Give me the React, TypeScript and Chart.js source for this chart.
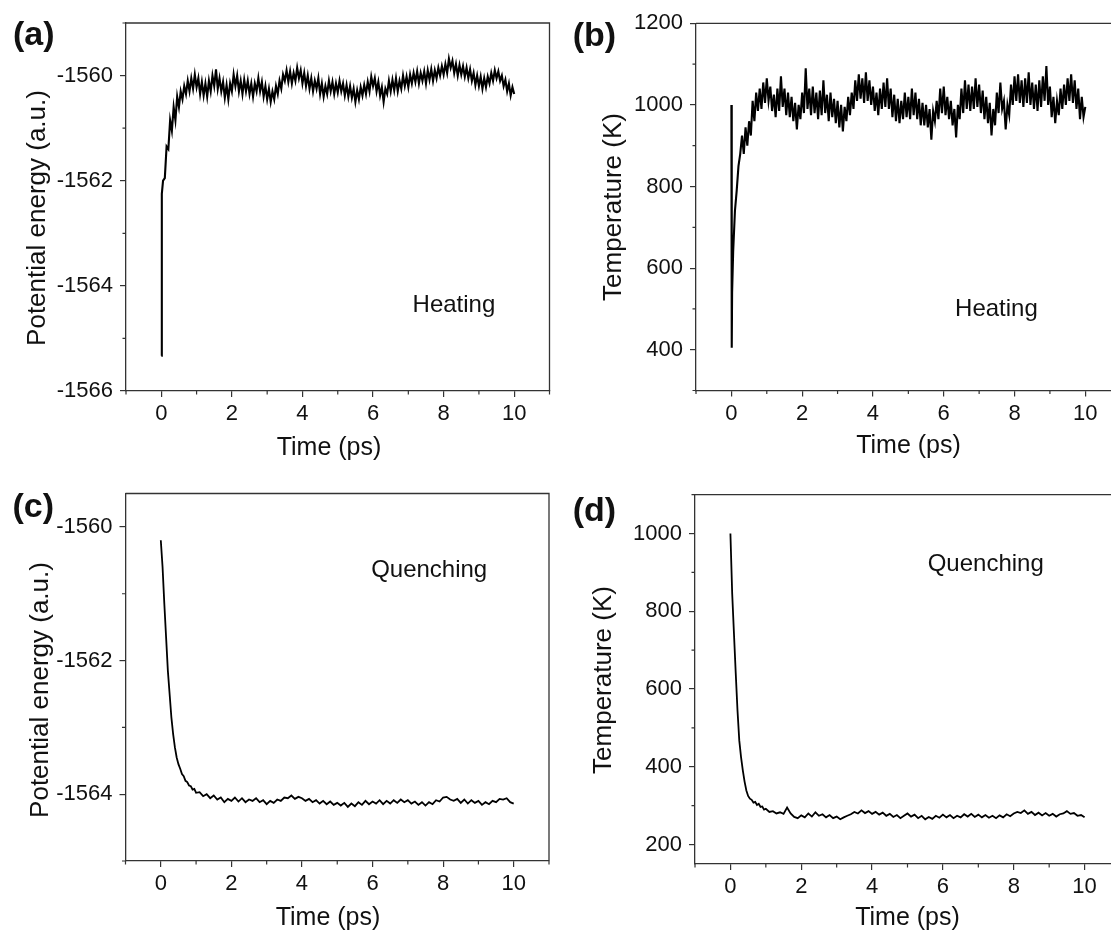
import React, { useEffect, useRef } from "react";
import { Chart, registerables } from "chart.js";

Chart.register(...registerables);

// ---------------- DATA ----------------
const TIME_HEAT = [
  0, 0.01, 0.02,
  0.05, 0.1, 0.15, 0.2, 0.25, 0.3, 0.35, 0.4, 0.45, 0.5,
  0.55, 0.6, 0.65, 0.7, 0.75, 0.8, 0.85, 0.9, 0.95, 1.0,
  1.05, 1.1, 1.15, 1.2, 1.25, 1.3, 1.35, 1.4, 1.45, 1.5,
  1.55, 1.6, 1.65, 1.7, 1.75, 1.8, 1.85, 1.9, 1.95, 2.0,
  2.05, 2.1, 2.15, 2.2, 2.25, 2.3, 2.35, 2.4, 2.45, 2.5,
  2.55, 2.6, 2.65, 2.7, 2.75, 2.8, 2.85, 2.9, 2.95, 3.0,
  3.05, 3.1, 3.15, 3.2, 3.25, 3.3, 3.35, 3.4, 3.45, 3.5,
  3.55, 3.6, 3.65, 3.7, 3.75, 3.8, 3.85, 3.9, 3.95, 4.0,
  4.05, 4.1, 4.15, 4.2, 4.25, 4.3, 4.35, 4.4, 4.45, 4.5,
  4.55, 4.6, 4.65, 4.7, 4.75, 4.8, 4.85, 4.9, 4.95, 5.0,
  5.05, 5.1, 5.15, 5.2, 5.25, 5.3, 5.35, 5.4, 5.45, 5.5,
  5.55, 5.6, 5.65, 5.7, 5.75, 5.8, 5.85, 5.9, 5.95, 6.0,
  6.05, 6.1, 6.15, 6.2, 6.25, 6.3, 6.35, 6.4, 6.45, 6.5,
  6.55, 6.6, 6.65, 6.7, 6.75, 6.8, 6.85, 6.9, 6.95, 7.0,
  7.05, 7.1, 7.15, 7.2, 7.25, 7.3, 7.35, 7.4, 7.45, 7.5,
  7.55, 7.6, 7.65, 7.7, 7.75, 7.8, 7.85, 7.9, 7.95, 8.0,
  8.05, 8.1, 8.15, 8.2, 8.25, 8.3, 8.35, 8.4, 8.45, 8.5,
  8.55, 8.6, 8.65, 8.7, 8.75, 8.8, 8.85, 8.9, 8.95, 9.0,
  9.05, 9.1, 9.15, 9.2, 9.25, 9.3, 9.35, 9.4, 9.45, 9.5,
  9.55, 9.6, 9.65, 9.7, 9.75, 9.8, 9.85, 9.9, 9.95, 10.0,
];

// (a) potential energy during heating (a.u.)
const ENERGY_HEAT = [
  -1565.33, -1563.6, -1562.25,
  -1562.0, -1561.95, -1561.35, -1561.4, -1560.85, -1561.05, -1560.6, -1560.85, -1560.4, -1560.6,
  -1560.3, -1560.45, -1560.2, -1560.35, -1560.1, -1560.3, -1560.05, -1560.25, -1559.98, -1560.22,
  -1560.05, -1560.35, -1560.12, -1560.38, -1560.15, -1560.4, -1560.1, -1560.3, -1560.0, -1560.2,
  -1559.88, -1560.25, -1560.05, -1560.3, -1560.12, -1560.42, -1560.18, -1560.45, -1560.15, -1560.3,
  -1559.98, -1560.2, -1560.0, -1560.3, -1560.1, -1560.35, -1560.08, -1560.3, -1560.1, -1560.35,
  -1560.15, -1560.4, -1560.15, -1560.3, -1560.05, -1560.3, -1560.12, -1560.4, -1560.2, -1560.45,
  -1560.25, -1560.5, -1560.3, -1560.45, -1560.2, -1560.35, -1560.1, -1560.25, -1559.98, -1560.1,
  -1559.9, -1560.12, -1559.92, -1560.15, -1559.95, -1560.1, -1559.85, -1560.05, -1559.9, -1560.15,
  -1559.95, -1560.2, -1560.0, -1560.25, -1560.05, -1560.3, -1560.1, -1560.25, -1560.05, -1560.35,
  -1560.15, -1560.4, -1560.2, -1560.35, -1560.1, -1560.3, -1560.12, -1560.35, -1560.15, -1560.32,
  -1560.1, -1560.3, -1560.15, -1560.38, -1560.18, -1560.4, -1560.2, -1560.42, -1560.25, -1560.5,
  -1560.28, -1560.45, -1560.22, -1560.38, -1560.18, -1560.35, -1560.12, -1560.3, -1560.02, -1560.2,
  -1560.05, -1560.3, -1560.12, -1560.38, -1560.22, -1560.5, -1560.25, -1560.35, -1560.1, -1560.3,
  -1560.08, -1560.28, -1560.05, -1560.3, -1560.1, -1560.25, -1560.0, -1560.2, -1560.02, -1560.22,
  -1559.98, -1560.15, -1559.95, -1560.12, -1559.92, -1560.15, -1559.95, -1560.1, -1559.92, -1560.15,
  -1559.9, -1560.08, -1559.88, -1560.1, -1559.9, -1560.05, -1559.85, -1560.0, -1559.82, -1559.98,
  -1559.78, -1559.95, -1559.68, -1559.85, -1559.72, -1559.95, -1559.78, -1560.0, -1559.8, -1559.98,
  -1559.82, -1560.02, -1559.85, -1560.05, -1559.88, -1560.1, -1559.95, -1560.18, -1560.0, -1560.2,
  -1560.02, -1560.25, -1560.05, -1560.22, -1560.02, -1560.15, -1559.95, -1560.1, -1559.9, -1560.05,
  -1559.92, -1560.1, -1560.0, -1560.2, -1560.08, -1560.3, -1560.15, -1560.38, -1560.22, -1560.35,
];

// (b) temperature during heating (K)
const TEMP_HEAT = [
  1000, 405, 540,
  640, 740, 790, 850, 880, 925, 880, 945, 900, 960,
  925, 1010, 960, 1030, 985, 1040, 990, 1055, 1005, 1065,
  1010, 1045, 985, 1025, 970, 1040, 985, 1070, 995, 1040,
  975, 1030, 970, 1020, 960, 1005, 940, 1000, 965, 1030,
  980, 1090, 990, 1040, 975, 1045, 980, 1030, 965, 1035,
  975, 1060, 980, 1025, 960, 1030, 970, 1015, 955, 1010,
  945, 1000, 935, 995, 960, 1020, 975, 1030, 990, 1060,
  1010, 1075, 1015, 1065, 1005, 1080, 1010, 1060, 1000, 1045,
  985, 1030, 975, 1040, 990, 1055, 995, 1065, 990, 1040,
  970, 1025, 960, 1015, 955, 1010, 965, 1030, 970, 1020,
  965, 1040, 975, 1030, 965, 1015, 950, 1005, 950, 1000,
  945, 990, 915, 985, 960, 1010, 965, 1040, 980, 1045,
  975, 1020, 965, 1010, 950, 990, 920, 1000, 965, 1040,
  980, 1060, 990, 1050, 985, 1045, 990, 1065, 995, 1050,
  980, 1035, 965, 1020, 955, 1005, 925, 990, 950, 1030,
  980, 1055, 990, 1010, 940, 1000, 975, 1050, 1000, 1070,
  1010, 1075, 1005, 1060, 995, 1065, 1005, 1080, 1000, 1055,
  990, 1050, 985, 1060, 995, 1070, 1010, 1095, 1000, 1045,
  970, 1020, 955, 1010, 975, 1040, 990, 1050, 1000, 1065,
  1010, 1075, 1005, 1060, 990, 1040, 965, 1020, 970, 995,
];

const TIME_QUENCH = [
  0, 0.05, 0.1, 0.15, 0.2, 0.25, 0.3, 0.35, 0.4, 0.45,
  0.5, 0.55, 0.6, 0.65, 0.7, 0.75, 0.8, 0.85, 0.9, 0.95,
  1.0,
  1.1, 1.2, 1.3, 1.4, 1.5, 1.6, 1.7, 1.8, 1.9, 2.0,
  2.1, 2.2, 2.3, 2.4, 2.5, 2.6, 2.7, 2.8, 2.9, 3.0,
  3.1, 3.2, 3.3, 3.4, 3.5, 3.6, 3.7, 3.8, 3.9, 4.0,
  4.1, 4.2, 4.3, 4.4, 4.5, 4.6, 4.7, 4.8, 4.9, 5.0,
  5.1, 5.2, 5.3, 5.4, 5.5, 5.6, 5.7, 5.8, 5.9, 6.0,
  6.1, 6.2, 6.3, 6.4, 6.5, 6.6, 6.7, 6.8, 6.9, 7.0,
  7.1, 7.2, 7.3, 7.4, 7.5, 7.6, 7.7, 7.8, 7.9, 8.0,
  8.1, 8.2, 8.3, 8.4, 8.5, 8.6, 8.7, 8.8, 8.9, 9.0,
  9.1, 9.2, 9.3, 9.4, 9.5, 9.6, 9.7, 9.8, 9.9, 10.0,
];

// (c) potential energy during quenching (a.u.)
const ENERGY_QUENCH = [
  -1560.2, -1560.6, -1561.15, -1561.65, -1562.15, -1562.5, -1562.85, -1563.1, -1563.3, -1563.45,
  -1563.55, -1563.62, -1563.7, -1563.73, -1563.8, -1563.82, -1563.87, -1563.88, -1563.93, -1563.92,
  -1563.98,
  -1563.97, -1564.03, -1564.0, -1564.06, -1564.02, -1564.08, -1564.05, -1564.12, -1564.07, -1564.1,
  -1564.05, -1564.11, -1564.06, -1564.12, -1564.08, -1564.1, -1564.06, -1564.12, -1564.09, -1564.15,
  -1564.1, -1564.13, -1564.08, -1564.1, -1564.05, -1564.06, -1564.02, -1564.07, -1564.04, -1564.06,
  -1564.1, -1564.07, -1564.12, -1564.09, -1564.14, -1564.1, -1564.15, -1564.11, -1564.16, -1564.13,
  -1564.17, -1564.13, -1564.19, -1564.14, -1564.18, -1564.12, -1564.16, -1564.1, -1564.15, -1564.11,
  -1564.14, -1564.09, -1564.15, -1564.1, -1564.14, -1564.09, -1564.13, -1564.08, -1564.12, -1564.09,
  -1564.14, -1564.11, -1564.16, -1564.12, -1564.17, -1564.12, -1564.15, -1564.09, -1564.11, -1564.05,
  -1564.04, -1564.08, -1564.1, -1564.07, -1564.13, -1564.08, -1564.14, -1564.09, -1564.13, -1564.1,
  -1564.16, -1564.12, -1564.15, -1564.1, -1564.12, -1564.07, -1564.08, -1564.06, -1564.12, -1564.14,
];

// (d) temperature during quenching (K)
const TEMP_QUENCH = [
  1000, 846, 743, 641, 545, 468, 425, 391, 362, 339,
  325, 318, 315, 308, 310, 302, 305, 297, 298, 290,
  292,
  284, 286, 280, 283, 279, 295, 280, 271, 268, 275,
  270, 280, 272, 283, 274, 278, 270, 276, 268, 272,
  265, 270, 274, 278, 284, 280, 288, 281, 286, 279,
  284, 277, 282, 274, 279, 271, 276, 268, 274, 280,
  272, 277, 268, 274, 265, 271, 266, 274, 269, 277,
  270, 276, 268, 274, 270, 278, 272, 279, 271, 277,
  270, 276, 269, 274, 268, 275, 270, 278, 273, 280,
  284, 281, 288, 279, 284, 276, 282, 275, 281, 274,
  279, 272, 278, 280, 286, 279, 281, 274, 276, 270,
];

// tick values
const X_MAJOR = [0, 2, 4, 6, 8, 10];
const X_MINOR = [-1, 1, 3, 5, 7, 9, 11];
const A_Y_MAJOR = [-1566, -1564, -1562, -1560];
const A_Y_MINOR = [-1565, -1563, -1561, -1559];
const B_Y_MAJOR = [400, 600, 800, 1000, 1200];
const B_Y_MINOR = [300, 500, 700, 900, 1100];
const C_Y_MAJOR = [-1564, -1562, -1560];
const C_Y_MINOR = [-1565, -1563, -1561];
const D_Y_MAJOR = [200, 400, 600, 800, 1000];
const D_Y_MINOR = [300, 500, 700, 900, 1100];

// ---------------- LAYOUT / STYLE ----------------
const FONT = "'Liberation Sans', Arial, Helvetica, sans-serif";
const AXIS_COLOR = "#333333";
const TEXT_COLOR = "#111111";
const CANVAS_W = 1140;
const CANVAS_H = 931;
const Y_AXIS_W = 100;
const X_AXIS_H = 60;

type Panel = {
  key: string;
  letter: string;
  letterX: number;
  letterY: number;
  time: number[];
  values: number[];
  lineWidth: number;
  yMin: number;
  yMax: number;
  yMajor: number[];
  yMinor: number[];
  area: { L: number; R: number; T: number; B: number };
  xTitle: string;
  xTitleX: number;
  xTitleY: number;
  yTitle: string;
  yTitleX: number;
  yTitleY: number;
  note: string;
  noteX: number;
  noteY: number;
};

const PANELS: Panel[] = [
  {
    key: "a", letter: "(a)", letterX: 13, letterY: 45,
    time: TIME_HEAT, values: ENERGY_HEAT, lineWidth: 2.1,
    yMin: -1566, yMax: -1559, yMajor: A_Y_MAJOR, yMinor: A_Y_MINOR,
    area: { L: 126, R: 549.5, T: 23, B: 391 },
    xTitle: "Time (ps)", xTitleX: 329, xTitleY: 454.5,
    yTitle: "Potential energy (a.u.)", yTitleX: 45, yTitleY: 218,
    note: "Heating", noteX: 7.12, noteY: -1564.5,
  },
  {
    key: "b", letter: "(b)", letterX: 572.7, letterY: 46,
    time: TIME_HEAT, values: TEMP_HEAT, lineWidth: 2.1,
    yMin: 300, yMax: 1200, yMajor: B_Y_MAJOR, yMinor: B_Y_MINOR,
    area: { L: 696, R: 1120.7, T: 23.3, B: 390.5 },
    xTitle: "Time (ps)", xTitleX: 908.5, xTitleY: 453,
    yTitle: "Temperature (K)", yTitleX: 621, yTitleY: 207,
    note: "Heating", noteX: 6.32, noteY: 481.7,
  },
  {
    key: "c", letter: "(c)", letterX: 12.5, letterY: 517,
    time: TIME_QUENCH, values: ENERGY_QUENCH, lineWidth: 1.8,
    yMin: -1565, yMax: -1559.5, yMajor: C_Y_MAJOR, yMinor: C_Y_MINOR,
    area: { L: 125.5, R: 549, T: 493.5, B: 861 },
    xTitle: "Time (ps)", xTitleX: 328, xTitleY: 924.5,
    yTitle: "Potential energy (a.u.)", yTitleX: 48, yTitleY: 690,
    note: "Quenching", noteX: 5.96, noteY: -1560.75,
  },
  {
    key: "d", letter: "(d)", letterX: 572.7, letterY: 521,
    time: TIME_QUENCH, values: TEMP_QUENCH, lineWidth: 1.8,
    yMin: 150, yMax: 1100, yMajor: D_Y_MAJOR, yMinor: D_Y_MINOR,
    area: { L: 695, R: 1120, T: 494.7, B: 864 },
    xTitle: "Time (ps)", xTitleX: 907.5, xTitleY: 924.5,
    yTitle: "Temperature (K)", yTitleX: 611, yTitleY: 680,
    note: "Quenching", noteX: 5.57, noteY: 905,
  },
];

function makeConfig(p: Panel): any {
  const points = p.time
    .map((t, i) => ({ x: t, y: p.values[i] }))
    .filter((d) => typeof d.y === "number");

  const decor = {
    id: "decor_" + p.key,
    afterDraw(chart: any) {
      const { ctx, chartArea: a, scales } = chart;
      const xs = scales.x;
      const ys = scales.y;
      ctx.save();
      // top and right frame
      ctx.strokeStyle = AXIS_COLOR;
      ctx.lineWidth = 1.3;
      ctx.beginPath();
      ctx.moveTo(a.left, a.top);
      ctx.lineTo(a.right, a.top);
      ctx.lineTo(a.right, a.bottom);
      ctx.stroke();
      // minor ticks (outward)
      ctx.lineWidth = 1.2;
      ctx.beginPath();
      for (const v of X_MINOR) {
        const px = xs.getPixelForValue(v);
        ctx.moveTo(px, a.bottom);
        ctx.lineTo(px, a.bottom + 3.5);
      }
      for (const v of p.yMinor) {
        const py = ys.getPixelForValue(v);
        ctx.moveTo(a.left, py);
        ctx.lineTo(a.left - 3.5, py);
      }
      ctx.stroke();

      ctx.fillStyle = TEXT_COLOR;
      ctx.textBaseline = "alphabetic";
      // panel letter
      ctx.font = `bold 34px ${FONT}`;
      ctx.textAlign = "left";
      ctx.fillText(p.letter, p.letterX, p.letterY);
      // x title
      ctx.font = `25px ${FONT}`;
      ctx.textAlign = "center";
      ctx.fillText(p.xTitle, p.xTitleX, p.xTitleY);
      // y title
      ctx.save();
      ctx.translate(p.yTitleX, p.yTitleY);
      ctx.rotate(-Math.PI / 2);
      ctx.font = `26px ${FONT}`;
      ctx.textAlign = "center";
      ctx.fillText(p.yTitle, 0, 0);
      ctx.restore();
      // annotation
      ctx.font = `24px ${FONT}`;
      ctx.textAlign = "left";
      ctx.fillText(p.note, xs.getPixelForValue(p.noteX), ys.getPixelForValue(p.noteY));
      ctx.restore();
    },
  };

  const gridOpts = {
    display: true,
    drawOnChartArea: false,
    drawTicks: true,
    tickLength: 6,
    tickColor: AXIS_COLOR,
    lineWidth: 1.2,
  };
  const borderOpts = { display: true, color: AXIS_COLOR, width: 1.3 };

  return {
    type: "line",
    data: {
      datasets: [
        {
          data: points,
          borderColor: "#000000",
          borderWidth: p.lineWidth,
          borderJoinStyle: "miter",
          pointRadius: 0,
          tension: 0,
          fill: false,
        },
      ],
    },
    options: {
      animation: false,
      responsive: false,
      devicePixelRatio: 1,
      events: [],
      layout: {
        padding: {
          left: p.area.L - Y_AXIS_W,
          right: CANVAS_W - p.area.R,
          top: p.area.T,
          bottom: CANVAS_H - p.area.B - X_AXIS_H,
        },
      },
      plugins: {
        legend: { display: false },
        tooltip: { enabled: false },
        title: { display: false },
      },
      scales: {
        x: {
          type: "linear",
          min: -1,
          max: 11,
          afterBuildTicks: (s: any) => {
            s.ticks = X_MAJOR.map((v) => ({ value: v }));
          },
          afterFit: (s: any) => {
            s.height = X_AXIS_H;
          },
          grid: gridOpts,
          border: borderOpts,
          ticks: {
            padding: 4,
            color: TEXT_COLOR,
            font: { family: FONT, size: 22 },
            autoSkip: false,
            maxRotation: 0,
            callback: (v: any) => String(v),
          },
        },
        y: {
          type: "linear",
          min: p.yMin,
          max: p.yMax,
          afterBuildTicks: (s: any) => {
            s.ticks = p.yMajor.map((v) => ({ value: v }));
          },
          afterFit: (s: any) => {
            s.width = Y_AXIS_W;
          },
          grid: gridOpts,
          border: borderOpts,
          ticks: {
            padding: 7,
            color: TEXT_COLOR,
            font: { family: FONT, size: 22 },
            autoSkip: false,
            callback: (v: any) => String(v),
          },
        },
      },
    },
    plugins: [decor],
  };
}

function PanelChart({ p }: { p: Panel }) {
  const ref = useRef<HTMLCanvasElement | null>(null);
  useEffect(() => {
    if (!ref.current) return;
    const chart = new Chart(ref.current, makeConfig(p));
    return () => chart.destroy();
  }, [p]);
  return (
    <canvas
      ref={ref}
      width={CANVAS_W}
      height={CANVAS_H}
      style={{ position: "absolute", left: 0, top: 0, width: CANVAS_W, height: CANVAS_H }}
    />
  );
}

export default function App() {
  return (
    <div
      style={{
        position: "absolute",
        left: 0,
        top: 0,
        width: 1111,
        height: 931,
        overflow: "hidden",
        background: "#ffffff",
      }}
    >
      {PANELS.map((p) => (
        <PanelChart key={p.key} p={p} />
      ))}
    </div>
  );
}
